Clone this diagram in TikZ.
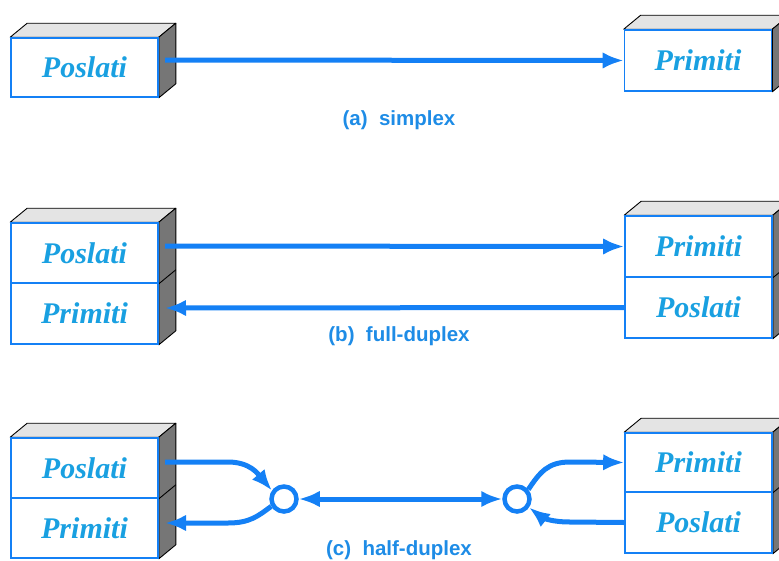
\documentclass[tikz,border=0pt]{standalone}
\usepackage{fontspec}
\setmainfont{Liberation Serif}
\newfontfamily\labfont{Liberation Sans}
\usetikzlibrary{arrows.meta,calc}
\definecolor{lineblue}{RGB}{20,128,245}
\definecolor{txtblue}{RGB}{25,160,225}
\definecolor{labblue}{RGB}{30,140,230}
\definecolor{topgray}{RGB}{228,228,228}
\definecolor{sidegray}{RGB}{118,118,118}
\pgfdeclarelayer{bg}
\pgfsetlayers{bg,main}
\newcommand\cubefaces[2]{%
  \filldraw[topface] (#1.north west) -- ++(17,-14) -- ($(#1.north east)+(17,-14)$) -- (#1.north east) -- cycle;
  \filldraw[sideface] (#1.north east) -- ++(17,-14) -- ($(#2.south east)+(17,-14)$) -- (#2.south east) -- cycle;
}
\begin{document}
\begin{tikzpicture}[x=1pt,y=-1pt,
  face/.style={draw=lineblue, line width=1.6pt, fill=white, minimum width=147pt, inner sep=0pt,
    font=\fontsize{30}{32}\selectfont\bfseries\itshape, text=txtblue},
  topface/.style={fill=topgray, draw=black, line width=0.9pt, line join=round},
  sideface/.style={fill=sidegray, draw=black, line width=0.9pt, line join=round},
  conn/.style={draw=lineblue, line width=5pt},
  ring/.style={circle, draw=lineblue, line width=4.5pt, fill=white, minimum size=25pt, inner sep=0pt},
  lab/.style={font=\labfont\bfseries\fontsize{20.5}{24}\selectfont, text=labblue},
  >={Latex[length=21pt,width=16.5pt]}]
\useasboundingbox (0,0) rectangle (779,560);

% (a) simplex
\node[face, minimum height=59pt] (aL) at (84.5,67.5) {Poslati};
\node[face, minimum height=61pt] (aR) at (698,60.5) {Primiti};
\begin{pgfonlayer}{bg}
  \cubefaces{aL}{aL}
  \cubefaces{aR}{aR}
\end{pgfonlayer}
\coordinate (aS) at (165,60);
\draw[conn,->] (aS) -- (aR.west);
\node[lab] (la) at (399,120) {(a)\ \ simplex};

% (b) full-duplex
\node[face, minimum height=60pt] (bL1) at (84.5,253) {Poslati};
\node[face, minimum height=61pt] (bL2) at (84.5,313.5) {Primiti};
\node[face, minimum height=61pt] (bR1) at (698.5,246.5) {Primiti};
\node[face, minimum height=61pt] (bR2) at (698.5,307.5) {Poslati};
\begin{pgfonlayer}{bg}
  \cubefaces{bL1}{bL2}
  \cubefaces{bR1}{bR2}
  \draw[black, line width=0.9pt] (bL1.south east) -- ++(17,-14);
  \draw[black, line width=0.9pt] (bR1.south east) -- ++(17,-14);
\end{pgfonlayer}
\coordinate (bS) at (165,246);
\coordinate (bE) at (165,308);
\draw[conn,->] (bS) -- (bR1.west);
\draw[conn,->] (bR2.west) -- (bE);
\node[lab] (lb) at (399,336) {(b)\ \ full-duplex};

% (c) half-duplex
\node[face, minimum height=60pt] (cL1) at (84.5,468) {Poslati};
\node[face, minimum height=60pt] (cL2) at (84.5,528) {Primiti};
\node[face, minimum height=59pt] (cR1) at (698.5,462.5) {Primiti};
\node[face, minimum height=61pt] (cR2) at (698.5,522.5) {Poslati};
\begin{pgfonlayer}{bg}
  \cubefaces{cL1}{cL2}
  \cubefaces{cR1}{cR2}
  \draw[black, line width=0.9pt] (cL1.south east) -- ++(17,-14);
  \draw[black, line width=0.9pt] (cR1.south east) -- ++(17,-14);
\end{pgfonlayer}
\node[ring] (cA) at (284,499) {};
\node[ring] (cB) at (517,499) {};
\coordinate (cS) at (165,462);
\coordinate (cE) at (165,523);
\draw[conn,->] (cS) -- (228,462) .. controls (250,462) and (258,474) .. (cA.145);
\draw[conn,->] (cA.210) .. controls (258,516) and (250,523) .. (228,523) -- (cE);
\draw[conn,<->] (cA.east) -- (cB.west);
\draw[conn,->] (cB.40) .. controls (540,472) and (548,462) .. (570,462) -- (cR1.west);
\draw[conn,->] (cR2.west) -- (570,522) .. controls (548,522) and (540,516) .. (cB.325);
\node[lab] (lc) at (399,550) {(c)\ \ half-duplex};
\end{tikzpicture}
\end{document}
